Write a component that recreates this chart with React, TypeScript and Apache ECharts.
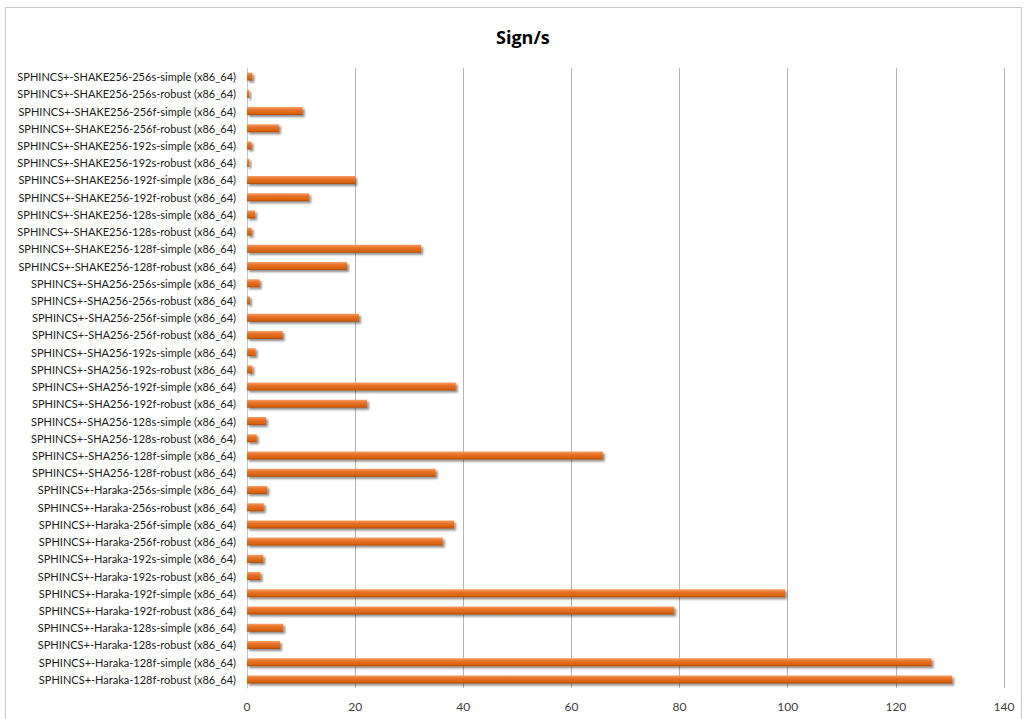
import React, { useEffect, useRef } from "react";
import * as echarts from "echarts";

const categories: string[] = [
  "SPHINCS+-SHAKE256-256s-simple (x86_64)",
  "SPHINCS+-SHAKE256-256s-robust (x86_64)",
  "SPHINCS+-SHAKE256-256f-simple (x86_64)",
  "SPHINCS+-SHAKE256-256f-robust (x86_64)",
  "SPHINCS+-SHAKE256-192s-simple (x86_64)",
  "SPHINCS+-SHAKE256-192s-robust (x86_64)",
  "SPHINCS+-SHAKE256-192f-simple (x86_64)",
  "SPHINCS+-SHAKE256-192f-robust (x86_64)",
  "SPHINCS+-SHAKE256-128s-simple (x86_64)",
  "SPHINCS+-SHAKE256-128s-robust (x86_64)",
  "SPHINCS+-SHAKE256-128f-simple (x86_64)",
  "SPHINCS+-SHAKE256-128f-robust (x86_64)",
  "SPHINCS+-SHA256-256s-simple (x86_64)",
  "SPHINCS+-SHA256-256s-robust (x86_64)",
  "SPHINCS+-SHA256-256f-simple (x86_64)",
  "SPHINCS+-SHA256-256f-robust (x86_64)",
  "SPHINCS+-SHA256-192s-simple (x86_64)",
  "SPHINCS+-SHA256-192s-robust (x86_64)",
  "SPHINCS+-SHA256-192f-simple (x86_64)",
  "SPHINCS+-SHA256-192f-robust (x86_64)",
  "SPHINCS+-SHA256-128s-simple (x86_64)",
  "SPHINCS+-SHA256-128s-robust (x86_64)",
  "SPHINCS+-SHA256-128f-simple (x86_64)",
  "SPHINCS+-SHA256-128f-robust (x86_64)",
  "SPHINCS+-Haraka-256s-simple (x86_64)",
  "SPHINCS+-Haraka-256s-robust (x86_64)",
  "SPHINCS+-Haraka-256f-simple (x86_64)",
  "SPHINCS+-Haraka-256f-robust (x86_64)",
  "SPHINCS+-Haraka-192s-simple (x86_64)",
  "SPHINCS+-Haraka-192s-robust (x86_64)",
  "SPHINCS+-Haraka-192f-simple (x86_64)",
  "SPHINCS+-Haraka-192f-robust (x86_64)",
  "SPHINCS+-Haraka-128s-simple (x86_64)",
  "SPHINCS+-Haraka-128s-robust (x86_64)",
  "SPHINCS+-Haraka-128f-simple (x86_64)",
  "SPHINCS+-Haraka-128f-robust (x86_64)",
];

const signPerSecond: number[] = [
  1.0, 0.45, 10.3, 5.9, 0.85, 0.45, 20.0, 11.5, 1.5, 0.85, 32.2, 18.5,
  2.35, 0.55, 20.7, 6.6, 1.6, 1.0, 38.6, 22.2, 3.5, 1.8, 65.8, 34.9,
  3.75, 3.1, 38.3, 36.2, 3.0, 2.5, 99.5, 79.0, 6.7, 6.1, 126.6, 130.4,
];

const xTicks = { min: 0, max: 140, interval: 20 };
const titleText = "Sign/s";

export default function App() {
  const ref = useRef<HTMLDivElement>(null);
  useEffect(() => {
    if (!ref.current) return;
    const chart = echarts.init(ref.current, undefined, { renderer: "svg" });
    chart.setOption({
      animation: false,
      backgroundColor: "#ffffff",
      title: {
        text: titleText,
        left: 491,
        top: 23,
        textStyle: {
          fontFamily: "Open Sans",
          fontSize: 18,
          fontWeight: "bold",
          color: "#000000",
        },
      },
      graphic: [
        {
          type: "rect",
          shape: { x: 5.5, y: 7.5, width: 1016, height: 720 },
          style: { fill: "none", stroke: "#c8c8c8", lineWidth: 1 },
          silent: true,
        },
      ],
      grid: { left: 247, right: 22, top: 68, bottom: 31, containLabel: false },
      xAxis: {
        type: "value",
        min: xTicks.min,
        max: xTicks.max,
        interval: xTicks.interval,
        axisLine: { show: false },
        axisTick: { show: false },
        axisLabel: {
          color: "#404040",
          fontFamily: "Lato",
          fontSize: 12,
          margin: 12,
        },
        splitLine: { show: true, lineStyle: { color: "#b4b4b4", width: 1 } },
      },
      yAxis: {
        type: "category",
        data: categories,
        inverse: true,
        axisLine: { show: true, lineStyle: { color: "#c8c8c8" } },
        axisTick: { show: false },
        axisLabel: {
          color: "#202020",
          fontFamily: "Lato",
          fontSize: 11,
          margin: 11,
          interval: 0,
        },
      },
      series: [
        {
          type: "bar",
          data: signPerSecond,
          barWidth: 8,
          itemStyle: {
            color: new echarts.graphic.LinearGradient(0, 0, 0, 1, [
              { offset: 0, color: "#F6A066" },
              { offset: 0.35, color: "#E8722A" },
              { offset: 0.8, color: "#D8620F" },
              { offset: 1, color: "#A94A0A" },
            ]),
            shadowColor: "rgba(0,0,0,0.45)",
            shadowBlur: 2,
            shadowOffsetX: 2,
            shadowOffsetY: 2,
          },
        },
      ],
    });
    return () => chart.dispose();
  }, []);
  return (
    <div
      ref={ref}
      style={{ position: "fixed", left: 0, top: 0, width: 1026, height: 719 }}
    />
  );
}
